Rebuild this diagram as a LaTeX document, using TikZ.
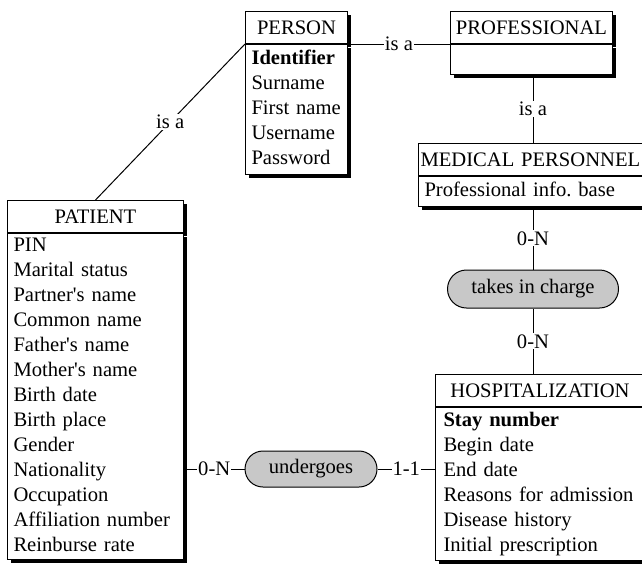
\documentclass[tikz,border=0pt]{standalone}
\usepackage{fontspec}
\setmainfont{Liberation Serif}
\usetikzlibrary{positioning,shapes.misc,shadows}
\definecolor{RelGray}{RGB}{200,200,200}
\newcommand{\erfont}{\fontsize{20.6}{25}\selectfont}
\tikzset{
    boxshadow/.style={drop shadow={shadow xshift=3pt, shadow yshift=-3pt, fill=black, opacity=1}},
    entityhead/.style={draw, fill=white, line width=1pt, font=\erfont, align=center,
        inner xsep=4pt, inner ysep=0pt, minimum height=32pt, anchor=north west, boxshadow},
    entitybody/.style={draw, fill=white, line width=1pt, font=\erfont, align=left,
        inner xsep=6pt, inner ysep=0pt, boxshadow,
        execute at begin node=\strut, execute at end node=\strut},
    relation/.style={rounded rectangle, draw, line width=1pt, fill=RelGray, font=\erfont, inner sep=0pt},
    card/.style={fill=white, font=\erfont, inner sep=1pt},
    link/.style={draw, line width=1pt}
}

\begin{document}
\begin{tikzpicture}[x=1pt, y=-1pt]
    \useasboundingbox (0,0) rectangle (642,563);
    \clip (0,0) rectangle (642,563);

    % --- entities ---
    \node[entityhead, text width=94pt] (personhead) at (245,11) {PERSON};
    \node[entitybody, text width=90pt, minimum height=130pt, below=0pt of personhead] (personbody)
        {\textbf{Identifier}\\Surname\\First name\\Username\\Password};

    \node[entityhead, text width=154pt] (profhead) at (450,11) {PROFESSIONAL};
    \node[entitybody, text width=150pt, minimum height=30pt, below=0pt of profhead] (profbody) {};

    \node[entityhead, text width=224pt, align=left, inner xsep=2pt] (medhead) at (418,143) {MEDICAL PERSONNEL};
    \node[entitybody, text width=216pt, minimum height=30pt, below=0pt of medhead] (medbody)
        {Professional info.\ base};

    \node[entityhead, text width=168pt] (patienthead) at (7,200) {PATIENT};
    \node[entitybody, text width=164pt, minimum height=326pt, below=0pt of patienthead] (patientbody)
        {PIN\\Marital status\\Partner\textquotesingle s name\\Common name\\Father\textquotesingle s name\\%
         Mother\textquotesingle s name\\Birth date\\Birth place\\Gender\\Nationality\\Occupation\\%
         Affiliation number\\Reinburse rate};

    \node[entityhead, text width=201pt] (hosphead) at (435,374) {HOSPITALIZATION};
    \node[entitybody, text width=193pt, inner xsep=8pt, minimum height=153pt, below=0pt of hosphead] (hospbody)
        {\textbf{Stay number}\\Begin date\\End date\\Reasons for admission\\Disease history\\Initial prescription};

    % --- relations ---
    \node[relation, minimum width=171pt, minimum height=38pt] (takes) at (533,289) {takes in charge};
    \node[relation, minimum width=132pt, minimum height=36pt] (undergoes) at (311,469) {undergoes};

    % --- links ---
    \draw[link] (patienthead.north) -- node[card] {is a} (personhead.south west);
    \draw[link] (personhead.south east) -- node[card] {is a} (profhead.south west);
    \draw[link] (takes.north |- profbody.south) -- node[card] {is a} (takes.north |- medhead.north);
    \draw[link] (takes.north |- medbody.south) -- node[card] {0-N} (takes.north);
    \draw[link] (takes.south) -- node[card] {0-N} (takes.south |- hosphead.north);
    \draw[link] (undergoes.west -| patientbody.east) -- node[card] {0-N} (undergoes.west);
    \draw[link] (undergoes.east) -- node[card] {1-1} (undergoes.east -| hospbody.west);
\end{tikzpicture}
\end{document}
